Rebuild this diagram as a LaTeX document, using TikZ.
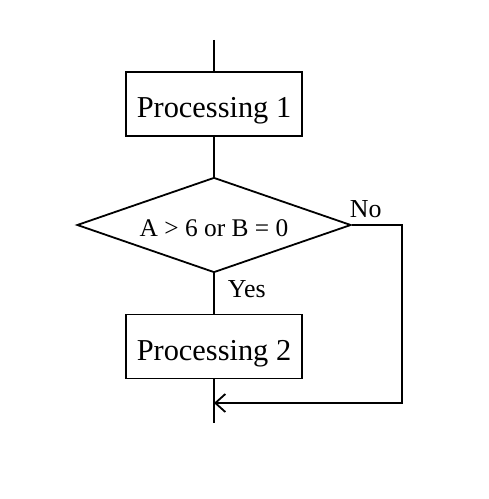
\documentclass[tikz,border=0pt]{standalone}
\usepackage{fontspec}
\setmainfont{Liberation Serif}
\usetikzlibrary{shapes.geometric,arrows.meta}

\tikzset{
  procbox/.style={draw, minimum width=176bp, minimum height=64bp, inner sep=0pt, text height=27bp, text depth=0pt, font=\fontsize{30.5}{36}\selectfont},
  decbox/.style={draw, diamond, aspect=2.9, minimum width=274bp, minimum height=95bp, inner sep=0pt, text height=23bp, text depth=0pt, font=\fontsize{25.5}{30}\selectfont},
  lbl/.style={inner sep=0pt, anchor=base west, font=\fontsize{26}{30}\selectfont}
}

\begin{document}
\begin{tikzpicture}[x=1bp, y=-1bp, line width=1.8bp]
  \useasboundingbox (0,0) rectangle (489,499);

  % Blocks
  \node[procbox] (p1) at (214, 104) {Processing 1};
  \node[decbox] (dec) at (214, 225) {A > 6 or B = 0};
  \node[procbox] (p2) at (214, 346.5) {Processing 2};

  % Free ends and corners
  \coordinate (top) at (214, 40);
  \coordinate (bot) at (214, 423);
  \coordinate (corner) at (402, 403);
  \coordinate (join) at (214, 403);

  % Main flow
  \draw (top) -- (p1);
  \draw (p1) -- (dec);
  \draw (dec) -- (p2);
  \draw (p2) -- (bot);

  % No branch back into the flow
  \draw[-{Straight Barb[length=10bp, width=18bp]}] (dec.east) -| (corner) -- (join);

  % Branch labels
  \node[lbl] (no) at (349, 217) {No};
  \node[lbl] (yes) at (227, 297) {Yes};
\end{tikzpicture}
\end{document}
